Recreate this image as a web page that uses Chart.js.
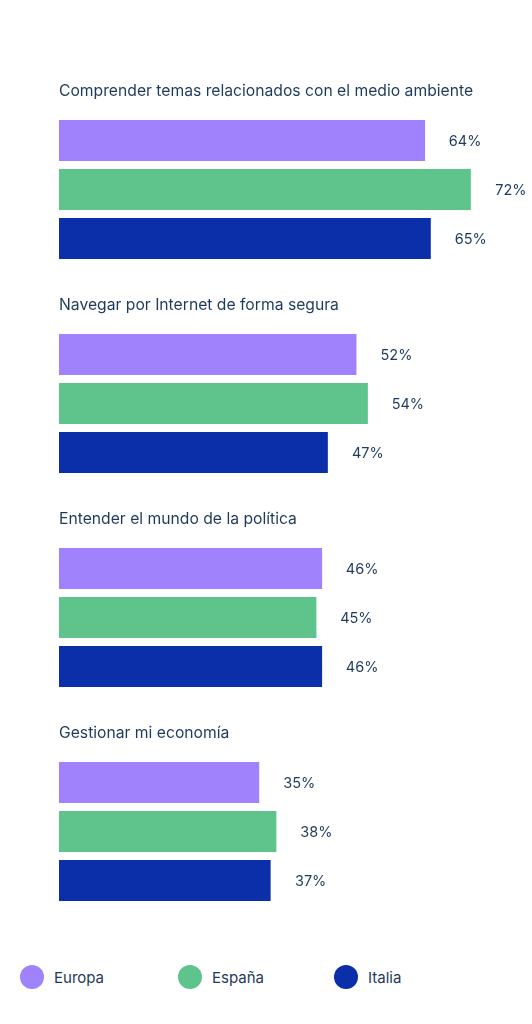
<!DOCTYPE html>
<html>
<head>
<meta charset="utf-8">
<script src="https://cdn.jsdelivr.net/npm/chart.js@4"></script>
<style>
  body { margin: 0; background: #fff; font-family: "Inter", sans-serif; }
  #wrap { position: relative; width: 532px; height: 940px; }
  #legend { position: relative; height: 84px; width: 532px; }
  .item { position: absolute; top: 25px; display: flex; align-items: center; color: #1e3a5c; font-size: 15px; }
  .dot { width: 24px; height: 24px; border-radius: 50%; margin-right: 10px; }
</style>
</head>
<body>
<div id="wrap"><canvas id="chart"></canvas></div>
<div id="legend"></div>
<script>
// Datos
const categorias = [
  'Comprender temas relacionados con el medio ambiente',
  'Navegar por Internet de forma segura',
  'Entender el mundo de la política',
  'Gestionar mi economía'
];
const series = ['Europa', 'España', 'Italia'];
const europa = [64, 52, 46, 35];
const espana = [72, 54, 45, 38];
const italia = [65, 47, 46, 37];
const colores = ['#a082fc', '#5ec48c', '#0a2fa8'];

const textColor = '#1e3a5c';

// Títulos de cada grupo y etiquetas de valor
const etiquetas = {
  id: 'etiquetas',
  afterDatasetsDraw(chart) {
    const ctx = chart.ctx;
    const yScale = chart.scales.y;
    ctx.save();
    ctx.fillStyle = textColor;
    ctx.textBaseline = 'middle';
    ctx.font = '15.7px Inter, sans-serif';
    ctx.textAlign = 'left';
    categorias.forEach(function(cat, i) {
      ctx.fillText(cat, chart.chartArea.left, yScale.getPixelForValue(i) - 98);
    });
    ctx.font = '14.5px Inter, sans-serif';
    ctx.textAlign = 'center';
    chart.data.datasets.forEach(function(ds, d) {
      chart.getDatasetMeta(d).data.forEach(function(el, i) {
        ctx.fillText(ds.data[i] + '%', el.x + 40, el.y + 1);
      });
    });
    ctx.restore();
  }
};

const ctx = document.getElementById('chart').getContext('2d');
new Chart(ctx, {
  type: 'bar',
  data: {
    labels: categorias,
    datasets: [
      { label: series[0], data: europa, backgroundColor: colores[0] },
      { label: series[1], data: espana, backgroundColor: colores[1] },
      { label: series[2], data: italia, backgroundColor: colores[2] }
    ]
  },
  options: {
    indexAxis: 'y',
    responsive: true,
    maintainAspectRatio: false,
    animation: false,
    categoryPercentage: 0.687,
    barPercentage: 0.837,
    layout: { padding: { top: 82.5, bottom: 1.5, left: 59, right: 15.4 } },
    plugins: {
      legend: { display: false },
      tooltip: { enabled: false }
    },
    scales: {
      x: { display: false, min: 0, max: 80 },
      y: { display: false }
    }
  },
  plugins: [etiquetas]
});

// Leyenda
const legend = document.getElementById('legend');
const posiciones = [20, 178, 334];
series.forEach(function(s, i) {
  const item = document.createElement('div');
  item.className = 'item';
  item.style.left = posiciones[i] + 'px';
  item.innerHTML = '<span class="dot" style="background:' + colores[i] + '"></span>' + s;
  legend.appendChild(item);
});
</script>
</body>
</html>
